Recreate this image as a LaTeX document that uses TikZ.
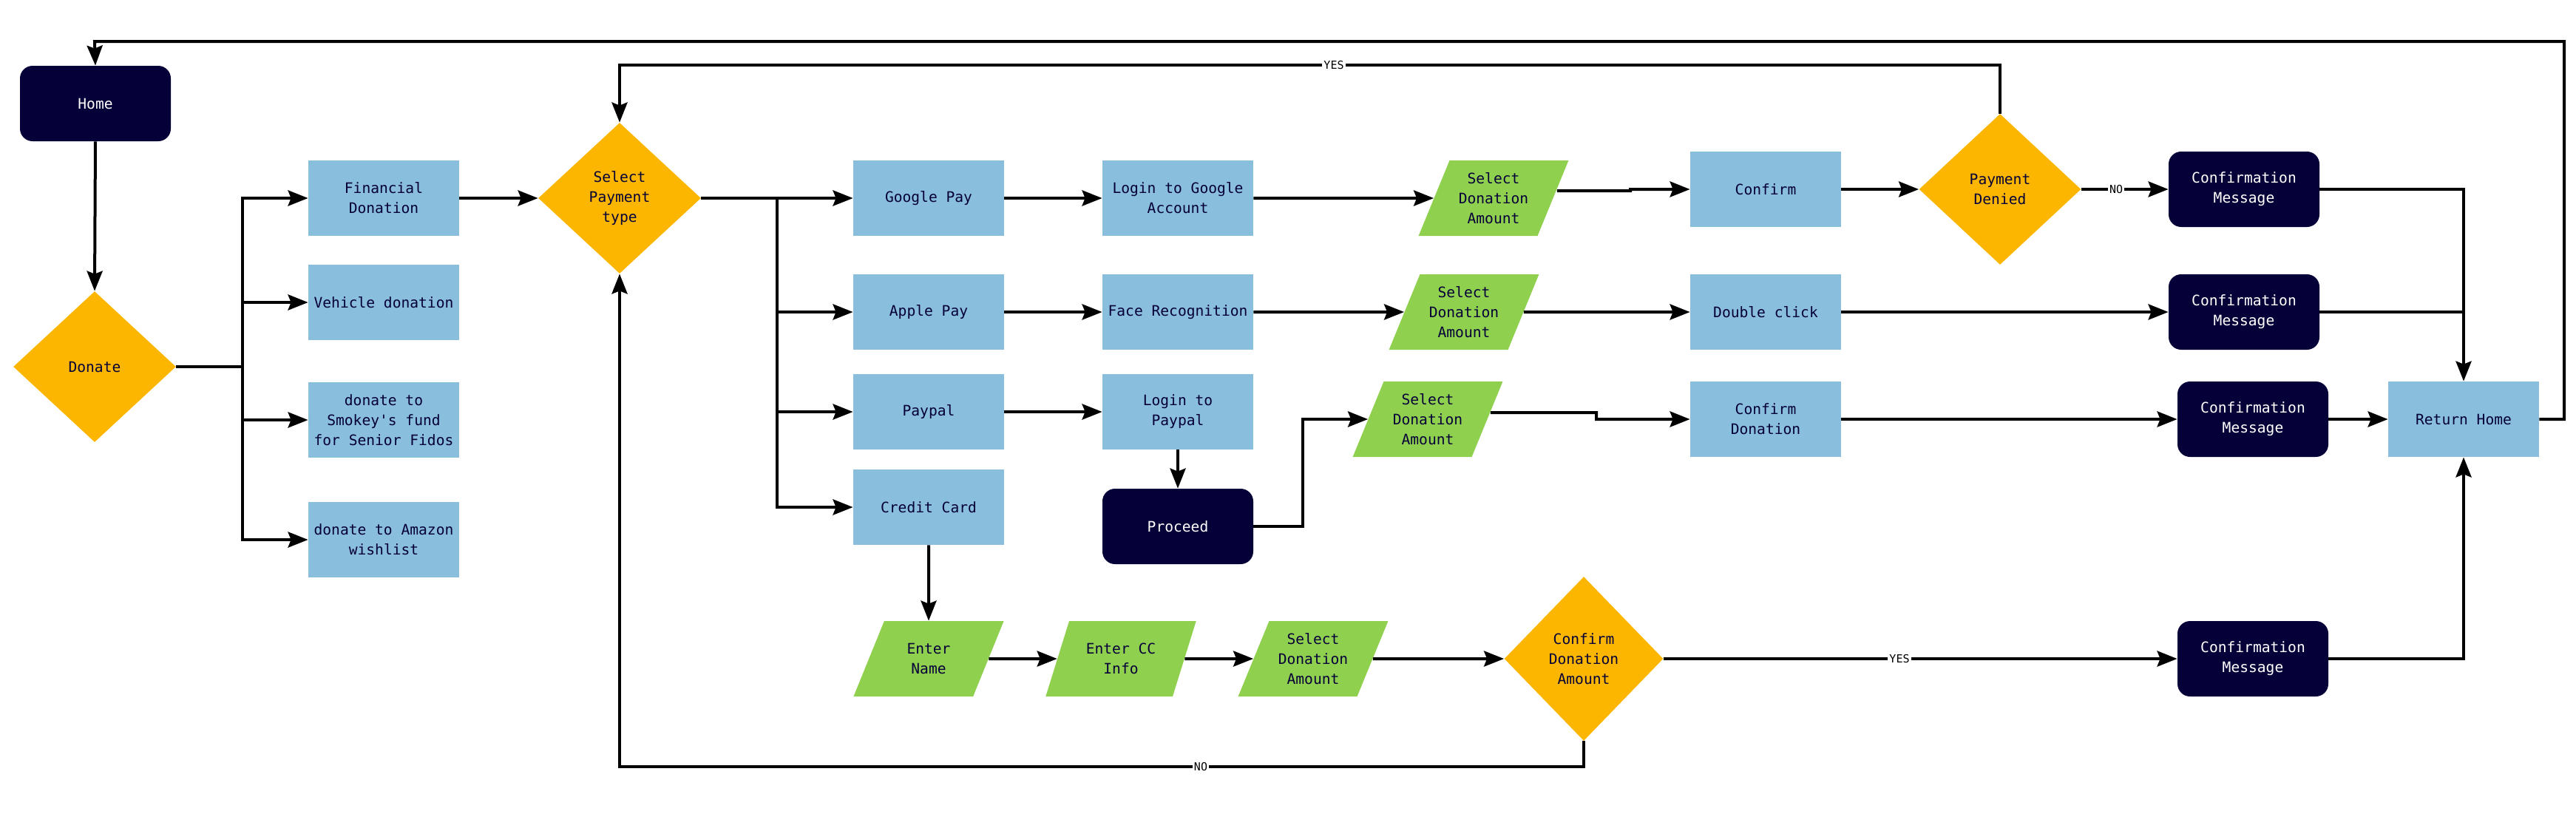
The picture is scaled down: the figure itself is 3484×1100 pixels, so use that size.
\documentclass[tikz,border=0pt]{standalone}
\usepackage{fontspec}
\setmonofont{DejaVu Sans Mono}
\usetikzlibrary{shapes.geometric,arrows.meta}
\definecolor{navy}{HTML}{050038}
\definecolor{lblue}{HTML}{89BEDC}
\definecolor{dorange}{HTML}{FDB600}
\definecolor{lgreen}{HTML}{8FD14F}
\begin{document}
\begin{tikzpicture}[x=0.5pt,y=-0.5pt,
  base/.style={font=\ttfamily\fontsize{9.8}{13.5}\selectfont, align=center, inner sep=2pt, text=navy},
  box/.style={base, rectangle, fill=lblue, minimum width=102pt, minimum height=51pt},
  term/.style={base, rectangle, rounded corners=8.5pt, fill=navy, text=white, minimum width=102pt, minimum height=51pt},
  dec/.style={base, diamond, fill=dorange, minimum width=110pt, minimum height=102pt, inner sep=0pt},
  io/.style={base, trapezium, trapezium left angle=65, trapezium right angle=115, trapezium stretches=true, fill=lgreen, minimum width=102pt, minimum height=51pt},
  arr/.style={line width=2pt, -{Stealth[length=13.5pt,width=10.5pt,inset=2pt]}},
  ln/.style={line width=2pt},
  lab/.style={font=\ttfamily\fontsize{7.5}{8}\selectfont, fill=white, inner sep=1pt, text=black}
]
\useasboundingbox (0,0) rectangle (3484,1100);

% nodes
\node[term] (home) at (129,140) {Home};
\node[dec] (donate) at (128,496) {Donate};
\node[box] (fin) at (519,268) {Financial\\Donation};
\node[box] (veh) at (519,409) {Vehicle donation};
\node[box] (smk) at (519,568) {donate to\\Smokey's fund\\for Senior Fidos};
\node[box] (amz) at (519,730) {donate to Amazon\\wishlist};
\node[dec] (sel) at (838,268) {Select\\Payment\\type};
\node[box] (gp) at (1256,268) {Google Pay};
\node[box] (ap) at (1256,422) {Apple Pay};
\node[box] (pp) at (1256,557) {Paypal};
\node[box] (cc) at (1256,686) {Credit Card};
\node[box] (lg) at (1593,268) {Login to Google\\Account};
\node[box] (fr) at (1593,422) {Face Recognition};
\node[box] (lp) at (1593,557) {Login to\\Paypal};
\node[term] (proc) at (1593,712) {Proceed};
\node[io] (sda1) at (2020,268) {Select\\Donation\\Amount};
\node[io] (sda2) at (1980,422) {Select\\Donation\\Amount};
\node[io] (sda3) at (1931,567) {Select\\Donation\\Amount};
\node[box] (conf) at (2388,256) {Confirm};
\node[box] (dbl) at (2388,422) {Double click};
\node[box] (cdon) at (2388,567) {Confirm\\Donation};
\node[dec, minimum width=109.5pt] (pden) at (2705,256) {Payment\\Denied};
\node[term] (cm1) at (3035,256) {Confirmation\\Message};
\node[term] (cm2) at (3035,422) {Confirmation\\Message};
\node[term] (cm3) at (3047,567) {Confirmation\\Message};
\node[box] (rh) at (3332,567) {Return Home};
\node[io] (en) at (1256,891) {Enter\\Name};
\node[io] (ecc) at (1516,891) {Enter CC\\Info};
\node[io] (sda4) at (1776,891) {Select\\Donation\\Amount};
\node[dec, minimum width=107.5pt, minimum height=111pt] (cda) at (2142,891) {Confirm\\Donation\\Amount};
\node[term] (cm4) at (3047,891) {Confirmation\\Message};

% helper coordinates
\coordinate (tr) at (3468,56);
\coordinate (tl) at (128,56);
\coordinate (b1) at (328,496);
\coordinate (b2) at (1051,268);
\coordinate (yc) at (2705,88);
\coordinate (nc) at (2142,1037);
\coordinate (pj) at (1762,712);
\coordinate (j1) at (2205,258);
\coordinate (j3) at (2159,558);

% connectors
\draw[arr] (rh.east) -| (tr) -- (tl) -- (home.north);
\draw[arr] (home.south) -- (donate.north);
\draw[ln] (donate.east) -- (b1);
\draw[arr] (b1) |- (fin.west);
\draw[arr] (b1) |- (veh.west);
\draw[arr] (b1) |- (smk.west);
\draw[arr] (b1) |- (amz.west);
\draw[arr] (fin) -- (sel);
\draw[arr] (sel.east) -- (gp.west);
\draw[arr] (b2) |- (ap.west);
\draw[arr] (b2) |- (pp.west);
\draw[arr] (b2) |- (cc.west);
\draw[arr] (gp) -- (lg);
\draw[arr] (ap) -- (fr);
\draw[arr] (pp) -- (lp);
\draw[arr] (lp) -- (proc);
\draw[arr] (lg) -- (sda1);
\draw[arr] (fr) -- (sda2);
\draw[arr] (proc.east) -- (pj) |- (sda3.west);
\draw[arr] ([xshift=2.5pt,yshift=5pt]sda1.east) -- (j1) |- (conf.west);
\draw[arr] (sda2.east) -- (dbl.west);
\draw[arr] ([xshift=2pt,yshift=4.5pt]sda3.east) -- (j3) |- (cdon.west);
\draw[arr] (conf) -- (pden);
\draw[arr] (pden.east) -- (cm1.west);
\draw[arr] (pden.north) -- (yc) -| (sel.north);
\draw[arr] (dbl) -- (cm2);
\draw[arr] (cdon) -- (cm3);
\draw[arr] (cm3) -- (rh);
\draw[arr] (cm1.east) -| (rh.north);
\draw[ln] (cm2.east) -- (cm2.east -| rh.north);
\draw[arr] (cc.south) -- (en.north);
\draw[arr] (en) -- (ecc);
\draw[arr] (ecc) -- (sda4);
\draw[arr] (sda4) -- (cda);
\draw[arr] (cda.east) -- (cm4.west);
\draw[arr] (cda.south) -- (nc) -| (sel.south);
\draw[arr] (cm4.east) -| (rh.south);

% labels
\node[lab] (lyes1) at (1804,88) {YES};
\node[lab] (lno1) at (2862,256) {NO};
\node[lab] (lyes2) at (2569,891) {YES};
\node[lab] (lno2) at (1624,1037) {NO};
\end{tikzpicture}
\end{document}
